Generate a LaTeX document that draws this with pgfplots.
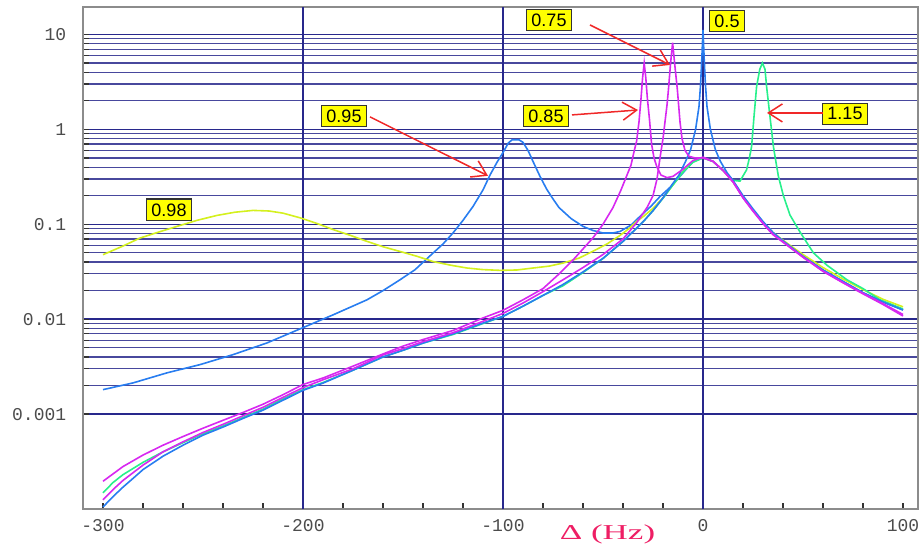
\documentclass[border=0pt]{standalone}
\usepackage{fontspec}
\setmainfont{Liberation Sans}
\newfontfamily\monof{Liberation Mono}
\newfontfamily\seriff{Liberation Serif}
\usepackage{graphicx}
\usepackage{pgfplots}
\pgfplotsset{compat=1.18}
\usetikzlibrary{arrows.meta}
\definecolor{gridc}{RGB}{40,40,140}
\definecolor{cyel}{RGB}{212,240,30}
\definecolor{cblue}{RGB}{40,125,240}
\definecolor{cmag}{RGB}{215,40,240}
\definecolor{cgrn}{RGB}{40,240,140}
\definecolor{arr}{RGB}{240,40,40}
\definecolor{xlab}{RGB}{238,30,100}
\definecolor{boxy}{RGB}{255,255,0}
\tikzset{lab/.style={fill=boxy, draw=black!80, line width=0.6pt, font=\fontsize{9}{10}\selectfont, inner xsep=2.5pt, inner ysep=2.2pt, text=black}}
\begin{document}
\begin{tikzpicture}
\begin{axis}[
  scale only axis, width=417.5pt, height=251pt,
  xmin=-310, xmax=107.5, ymode=log, ymin=1e-4, ymax=19.47,
  xtick={-300,-200,-100,0,100}, xticklabels={-300,-200,-100,0,100},
  minor x tick num=4,
  extra x ticks={-200,-100,0}, extra x tick labels={},
  extra x tick style={grid=major, major tick length=0pt},
  ytick={0.001,0.01,0.1,1,10}, yticklabels={0.001,0.01,0.1,1,10},
  ymajorgrids, yminorgrids,
  major grid style={gridc, line width=0.7pt},
  minor grid style={gridc!85, line width=0.6pt},
  tick align=inside, xtick pos=bottom, ytick pos=left,
  major tick length=3pt, minor tick length=3pt,
  tick style={black!80, line width=0.6pt},
  axis line style={black!45, line width=0.6pt},
  ticklabel style={font=\monof\fontsize{9}{10}\selectfont, text=black!70},
  xticklabel style={anchor=base, yshift=-11.3pt},
  yticklabel style={anchor=east, inner sep=0pt, xshift=-8.2pt},
  clip=false,
  every axis plot/.append style={line width=0.8pt},
]
% 0.95 (blue)
\addplot[cblue] coordinates {(-300,0.00181) (-285,0.00213) (-268,0.00272) (-251.5,0.00332) (-235,0.00423) (-218,0.00562) (-201.5,0.0079) (-185,0.0111) (-168,0.016) (-160,0.02) (-151.5,0.026) (-144,0.0332) (-135,0.0497) (-130,0.062) (-125,0.081) (-120,0.11) (-115,0.154) (-110,0.23) (-106.5,0.33) (-103,0.45) (-100,0.57) (-97.3,0.72) (-95.5,0.775) (-92,0.775) (-90,0.73) (-87.5,0.6) (-84.8,0.45) (-81.5,0.32) (-78.2,0.235) (-75,0.185) (-72,0.15) (-66,0.115) (-60,0.095) (-55,0.086) (-50,0.081) (-45,0.081) (-41.5,0.084) (-36,0.098) (-31.5,0.121) (-26,0.155) (-21.5,0.196) (-16,0.25) (-11.5,0.32) (-5,0.46) (0,0.5) (5,0.46) (10,0.37) (15,0.285) (20,0.195) (25,0.142) (30,0.105) (35,0.08) (40,0.066) (50,0.046) (60,0.033) (70,0.025) (80,0.019) (90,0.0152) (100,0.0125)};
% 0.98 (yellow)
\addplot[cyel] coordinates {(-300,0.0478) (-290,0.059) (-281.5,0.0716) (-272,0.083) (-263,0.095) (-253,0.11) (-243,0.124) (-234,0.134) (-225,0.14) (-217,0.138) (-210,0.131) (-201.5,0.117) (-193,0.102) (-185,0.088) (-176,0.076) (-168,0.066) (-160,0.058) (-151.5,0.0517) (-143,0.046) (-135,0.0405) (-126,0.037) (-118,0.0346) (-110,0.0333) (-101.5,0.0327) (-93,0.033) (-85,0.0346) (-77,0.0362) (-70,0.039) (-62,0.044) (-55,0.052) (-48,0.062) (-42,0.075) (-37,0.09) (-33,0.108) (-30,0.12) (-25,0.147) (-20,0.19) (-15,0.26) (-10,0.36) (-5,0.455) (0,0.5) (5,0.46) (10,0.37) (15,0.28) (20,0.195) (25,0.142) (30,0.105) (35,0.082) (40,0.068) (45,0.057) (50,0.048) (55,0.041) (60,0.035) (70,0.0265) (80,0.0205) (90,0.0162) (100,0.0135)};
% 1.15 (green)
\addplot[cgrn] coordinates {(-300,0.000148) (-295,0.00019) (-290,0.00023) (-280,0.00031) (-270,0.0004) (-260,0.0005) (-250,0.00062) (-240,0.00075) (-230,0.00092) (-220,0.00113) (-210,0.00145) (-200,0.00181) (-190,0.00215) (-175,0.0029) (-160,0.004) (-150,0.0047) (-140,0.0056) (-125,0.0069) (-110,0.009) (-100,0.0107) (-90,0.0137) (-80,0.0178) (-70,0.0225) (-60,0.031) (-50,0.0435) (-40,0.066) (-30,0.106) (-25,0.139) (-20,0.188) (-15,0.26) (-10,0.355) (-5,0.45) (0,0.5) (5,0.46) (10,0.37) (15,0.29) (18.5,0.285) (21.8,0.375) (23.2,0.5) (24.3,0.66) (25.5,1.36) (26.8,2.82) (28.4,4.3) (29.7,5.0) (31,4.3) (31.8,2.82) (33.5,1.36) (35.2,0.66) (36.5,0.45) (37.7,0.32) (40.2,0.2) (43.5,0.125) (48.5,0.083) (55.2,0.05) (62,0.037) (72,0.026) (80,0.021) (88.5,0.016) (100,0.0128)};
% 0.5 (blue)
\addplot[cblue] coordinates {(-300,0.000105) (-295,0.000135) (-290,0.00017) (-285,0.00021) (-280,0.00026) (-270,0.00036) (-260,0.00047) (-250,0.0006) (-240,0.00073) (-230,0.0009) (-220,0.0011) (-210,0.0014) (-200,0.00178) (-190,0.00212) (-175,0.0029) (-160,0.004) (-150,0.0047) (-140,0.0056) (-125,0.007) (-110,0.0091) (-100,0.0107) (-90,0.0137) (-80,0.0178) (-70,0.0232) (-60,0.0315) (-50,0.0438) (-40,0.066) (-30,0.106) (-25,0.139) (-20,0.19) (-15,0.27) (-12,0.33) (-8.7,0.46) (-6.2,0.61) (-3.7,1.0) (-2,1.74) (-1.2,3) (-0.6,5.5) (0,11.2) (0.6,5.5) (1.2,3) (2,1.74) (3.7,1.0) (6.2,0.61) (8.7,0.46) (12,0.35) (15,0.29) (20,0.2) (25,0.145) (30,0.107) (35,0.082) (40,0.067) (50,0.046) (60,0.033) (70,0.025) (80,0.019) (90,0.0152) (100,0.0125)};
% 0.85 (magenta)
\addplot[cmag] coordinates {(-300,0.000196) (-290,0.00028) (-280,0.00037) (-270,0.00047) (-260,0.00058) (-250,0.00071) (-240,0.00086) (-230,0.00104) (-220,0.00127) (-210,0.0016) (-200,0.00205) (-190,0.0024) (-175,0.0032) (-160,0.0043) (-150,0.0052) (-140,0.0061) (-125,0.0076) (-110,0.0103) (-100,0.0124) (-90,0.016) (-80,0.021) (-71.5,0.0306) (-65,0.042) (-60,0.055) (-55,0.072) (-50,0.1) (-45,0.15) (-41,0.23) (-38,0.33) (-36,0.42) (-34.5,0.58) (-33.2,0.75) (-32,1.2) (-31,2.1) (-30.2,3.5) (-29.4,5.0) (-28.6,3.5) (-27.8,2.1) (-26.8,1.3) (-25.7,0.7) (-24.5,0.5) (-23,0.4) (-21,0.33) (-18,0.31) (-15,0.32) (-10,0.38) (-5,0.47) (0,0.51) (5,0.46) (10,0.37) (15,0.28) (20,0.19) (25,0.138) (30,0.102) (35,0.078) (40,0.065) (45,0.054) (50,0.045) (55,0.038) (60,0.032) (70,0.0242) (80,0.0185) (90,0.0143) (100,0.0108)};
% 0.75 (magenta)
\addplot[cmag] coordinates {(-300,0.000125) (-295,0.00016) (-290,0.0002) (-280,0.00029) (-270,0.0004) (-260,0.00051) (-250,0.00064) (-240,0.00078) (-230,0.00096) (-220,0.00118) (-210,0.0015) (-200,0.0019) (-190,0.0023) (-175,0.003) (-160,0.0042) (-150,0.0049) (-140,0.0058) (-125,0.0072) (-110,0.0095) (-100,0.0115) (-90,0.0148) (-80,0.0195) (-70,0.026) (-60,0.035) (-50,0.048) (-40,0.07) (-33,0.105) (-28,0.15) (-25,0.2) (-23,0.3) (-21.5,0.5) (-20,0.8) (-19,1.2) (-18,1.8) (-17.3,2.6) (-16.2,5.0) (-15.2,8.2) (-14.2,5.0) (-12.8,2.6) (-11.5,1.2) (-10.5,0.8) (-9,0.6) (-7,0.52) (-4,0.5) (0,0.5) (5,0.46) (10,0.37) (15,0.28) (20,0.19) (25,0.138) (30,0.102) (35,0.078) (40,0.065) (45,0.054) (50,0.045) (55,0.038) (60,0.032) (70,0.0243) (80,0.0187) (90,0.0146) (100,0.0112)};
% labels
\node[lab] at (axis cs:-267,0.142) {0.98};
\node[lab] at (axis cs:-179.5,1.387) {0.95};
\node[lab] at (axis cs:-77,14.2) {0.75};
\node[lab] at (axis cs:-78.5,1.387) {0.85};
\node[lab] at (axis cs:12,13.9) {0.5};
\node[lab] at (axis cs:71,1.456) {1.15};
% arrows
\draw[arr, line width=0.75pt, -{Straight Barb[length=7pt,width=9pt]}] (axis cs:-166.5,1.354) -- (axis cs:-107.5,0.324);
\draw[arr, line width=0.75pt, -{Straight Barb[length=7pt,width=9pt]}] (axis cs:-56.5,12.6) -- (axis cs:-16.5,4.77);
\draw[arr, line width=0.75pt, -{Straight Barb[length=7pt,width=9pt]}] (axis cs:-65.5,1.42) -- (axis cs:-32.5,1.6);
\draw[arr, line width=0.75pt, -{Straight Barb[length=7pt,width=9pt]}] (axis cs:60,1.49) -- (axis cs:32,1.49);
% x label
\node[anchor=base, text=xlab, inner sep=0pt] at ([yshift=-15.2pt]axis cs:-47.75,1e-4) {\scalebox{1.65}[1]{\seriff\fontsize{10.6}{12}\selectfont Δ (Hz)}};
\coordinate (sw) at (rel axis cs:0,0);
\end{axis}
\pgfresetboundingbox
\path ([xshift=-41.5pt,yshift=-23.5pt]sw) rectangle ++(461pt,278pt);
\end{tikzpicture}
\end{document}
